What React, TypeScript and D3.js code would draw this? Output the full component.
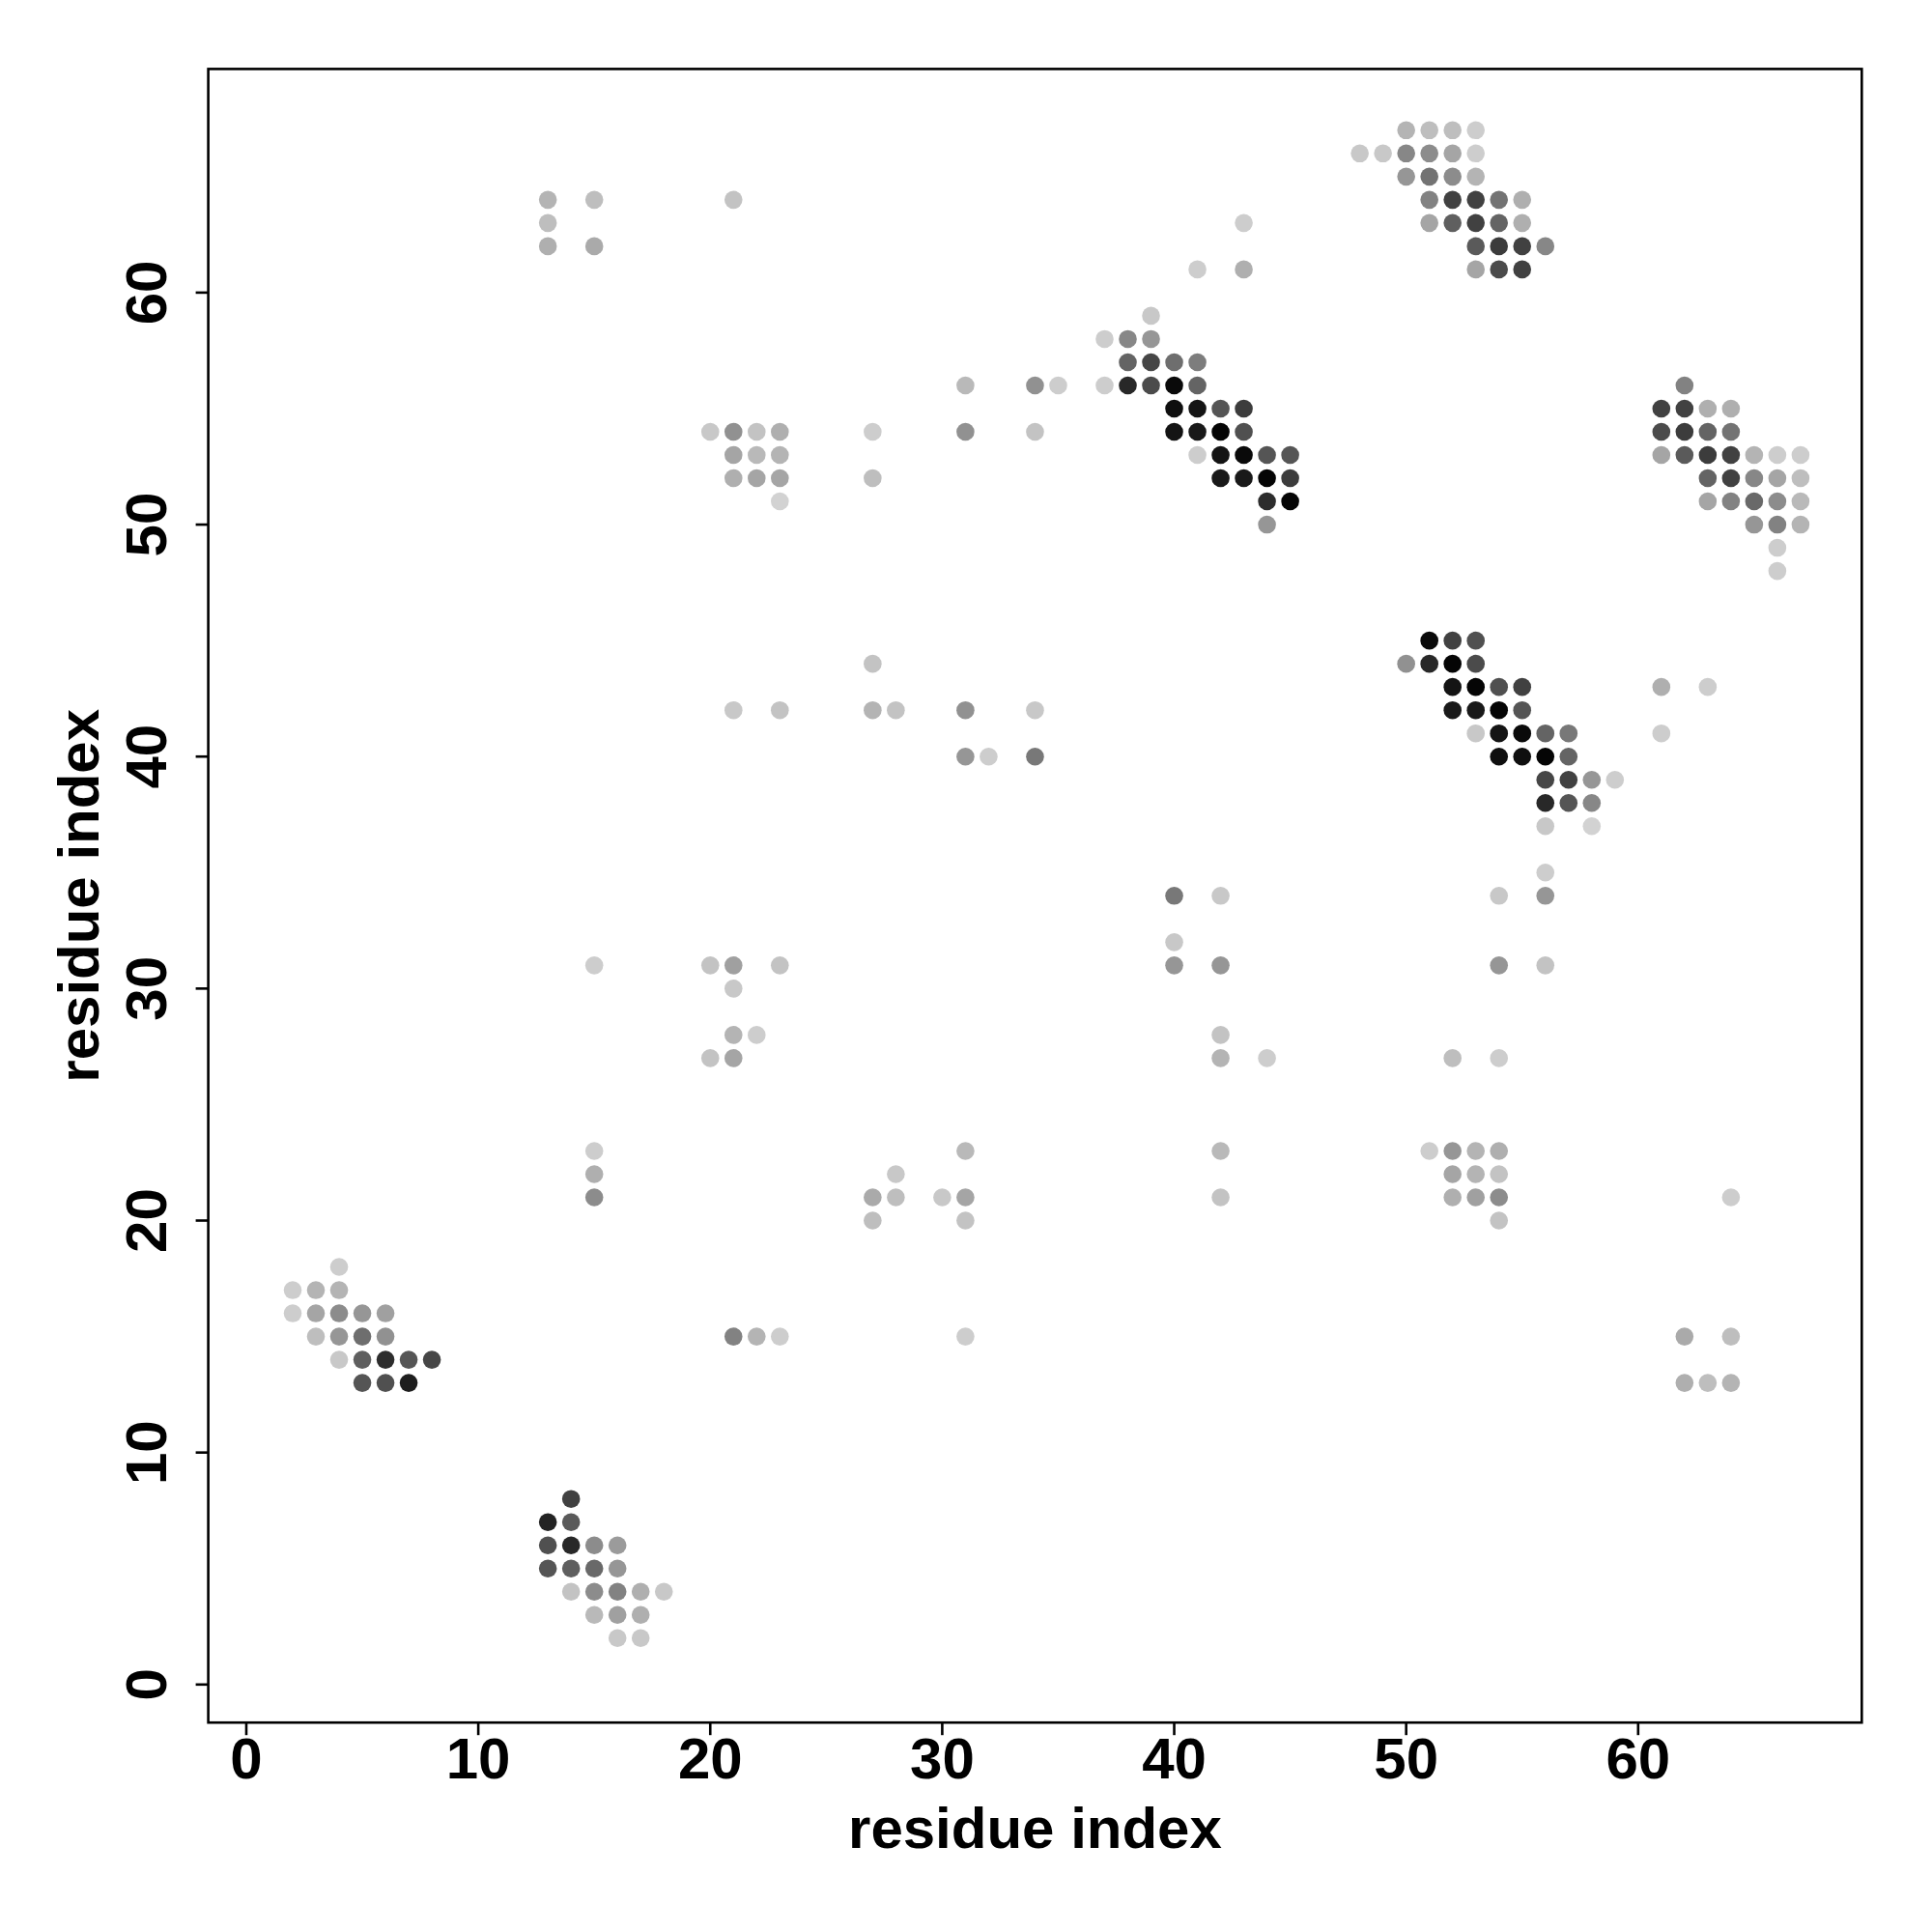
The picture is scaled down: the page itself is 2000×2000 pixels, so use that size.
import React from "react";
import * as d3 from "d3";

// Contact points: [residue x, residue y, gray level 0-255]
const clusterA: [number, number, number][] = [
  [4, 18, 205],
  [2, 17, 205], [3, 17, 180], [4, 17, 180],
  [2, 16, 205], [3, 16, 165], [4, 16, 140], [5, 16, 150], [6, 16, 160],
  [3, 15, 190], [4, 15, 150], [5, 15, 110], [6, 15, 145],
  [4, 14, 200], [5, 14, 95], [6, 14, 45], [7, 14, 85], [8, 14, 70],
  [5, 13, 85], [6, 13, 80], [7, 13, 30],
];
const clusterB: [number, number, number][] = [
  [14, 8, 65],
  [13, 7, 35], [14, 7, 90],
  [13, 6, 80], [14, 6, 40], [15, 6, 140], [16, 6, 155],
  [13, 5, 85], [14, 5, 95], [15, 5, 105], [16, 5, 150],
  [14, 4, 195], [15, 4, 140], [16, 4, 130], [17, 4, 175], [18, 4, 200],
  [15, 3, 185], [16, 3, 160], [17, 3, 175],
  [16, 2, 200], [17, 2, 200],
];
const upperLeft: [number, number, number][] = [
  [15, 23, 205], [15, 22, 175], [15, 21, 140], [15, 31, 205],
  [13, 64, 180], [13, 63, 190], [13, 62, 175], [15, 64, 190], [15, 62, 170],
  [21, 64, 195],
  [31, 56, 185], [34, 56, 145], [35, 56, 205],
  [20, 54, 200], [21, 54, 145], [22, 54, 195], [23, 54, 175], [27, 54, 205], [31, 54, 145], [34, 54, 195],
  [21, 53, 165], [22, 53, 185], [23, 53, 180],
  [21, 52, 175], [22, 52, 165], [23, 52, 165], [27, 52, 190],
  [23, 51, 210],
];
const clusterC: [number, number, number][] = [
  [43, 63, 205], [41, 61, 205], [43, 61, 175], [39, 59, 200],
  [37, 58, 205], [38, 58, 135], [39, 58, 150],
  [38, 57, 100], [39, 57, 70], [40, 57, 110], [41, 57, 125],
  [37, 56, 205], [38, 56, 40], [39, 56, 75], [40, 56, 10], [41, 56, 100],
  [40, 55, 15], [41, 55, 20], [42, 55, 85], [43, 55, 60],
  [40, 54, 20], [41, 54, 25], [42, 54, 5], [43, 54, 80],
  [41, 53, 205], [42, 53, 20], [43, 53, 10], [44, 53, 85], [45, 53, 85],
  [42, 52, 25], [43, 52, 25], [44, 52, 5], [45, 52, 60],
  [44, 51, 45], [45, 51, 5],
  [44, 50, 150],
];
const clusterD: [number, number, number][] = [
  [50, 67, 180], [51, 67, 190], [52, 67, 190], [53, 67, 205],
  [48, 66, 200], [49, 66, 200], [50, 66, 135], [51, 66, 140], [52, 66, 165], [53, 66, 205],
  [50, 65, 150], [51, 65, 115], [52, 65, 140], [53, 65, 180],
  [51, 64, 130], [52, 64, 65], [53, 64, 65], [54, 64, 115], [55, 64, 175],
  [51, 63, 165], [52, 63, 95], [53, 63, 65], [54, 63, 100], [55, 63, 175],
  [53, 62, 90], [54, 62, 60], [55, 62, 65], [56, 62, 135],
  [53, 61, 165], [54, 61, 75], [55, 61, 65],
];
const clusterE: [number, number, number][] = [
  [62, 56, 130],
  [61, 55, 65], [62, 55, 65], [63, 55, 175], [64, 55, 175],
  [61, 54, 75], [62, 54, 60], [63, 54, 100], [64, 54, 115],
  [61, 53, 165], [62, 53, 90], [63, 53, 60], [64, 53, 65], [65, 53, 180], [66, 53, 205], [67, 53, 205],
  [63, 52, 100], [64, 52, 65], [65, 52, 135], [66, 52, 165], [67, 52, 190],
  [63, 51, 165], [64, 51, 130], [65, 51, 105], [66, 51, 140], [67, 51, 185],
  [65, 50, 150], [66, 50, 130], [67, 50, 180],
  [66, 49, 205], [66, 48, 205],
];
const middle: [number, number, number][] = [
  [27, 44, 195],
  [21, 42, 200], [23, 42, 195], [27, 42, 180], [28, 42, 195], [31, 42, 145], [34, 42, 200],
  [31, 40, 150], [32, 40, 205], [34, 40, 120],
  [20, 31, 195], [21, 31, 160], [23, 31, 195],
  [21, 30, 200], [21, 28, 180], [22, 28, 205], [20, 27, 195], [21, 27, 165],
  [40, 34, 120], [42, 34, 200], [40, 32, 200], [40, 31, 150], [42, 31, 150],
  [42, 28, 195], [42, 27, 180], [44, 27, 205],
  [42, 23, 185], [42, 21, 195],
];
const clusterF: [number, number, number][] = [
  [51, 45, 10], [52, 45, 65], [53, 45, 80],
  [50, 44, 145], [51, 44, 40], [52, 44, 5], [53, 44, 75],
  [52, 43, 20], [53, 43, 5], [54, 43, 80], [55, 43, 65],
  [52, 42, 25], [53, 42, 25], [54, 42, 5], [55, 42, 85],
  [53, 41, 200], [54, 41, 20], [55, 41, 10], [56, 41, 100], [57, 41, 120],
  [54, 40, 15], [55, 40, 15], [56, 40, 5], [57, 40, 100],
  [56, 39, 70], [57, 39, 65], [58, 39, 150], [59, 39, 205],
  [56, 38, 40], [57, 38, 85], [58, 38, 135],
  [56, 37, 200], [58, 37, 210],
  [56, 35, 205], [54, 34, 200], [56, 34, 150],
  [54, 31, 150], [56, 31, 195],
  [52, 27, 190], [54, 27, 205],
  [61, 43, 175], [63, 43, 205], [61, 41, 205],
];
const lower: [number, number, number][] = [
  [31, 23, 185], [28, 22, 200], [27, 21, 170], [28, 21, 190], [30, 21, 200], [31, 21, 165], [27, 20, 190], [31, 20, 195],
  [21, 15, 130], [22, 15, 180], [23, 15, 205], [31, 15, 205],
  [51, 23, 205], [52, 23, 150], [53, 23, 180], [54, 23, 175],
  [52, 22, 165], [53, 22, 180], [54, 22, 195],
  [52, 21, 175], [53, 21, 160], [54, 21, 140], [54, 20, 195],
  [64, 21, 205], [62, 15, 170], [64, 15, 190], [62, 13, 175], [63, 13, 190], [64, 13, 180],
];

const xTicks = [0, 10, 20, 30, 40, 50, 60];
const yTicks = [0, 10, 20, 30, 40, 50, 60];
const xTitle = "residue index";
const yTitle = "residue index";

const points = [
  ...clusterA, ...clusterB, ...upperLeft, ...clusterC, ...clusterD,
  ...clusterE, ...middle, ...clusterF, ...lower,
];

export default function App() {
  const W = 2000, H = 2000;
  const left = 215.6, right = 1927.3, top = 71.4, bottom = 1783.2;
  const dom: [number, number] = [-1.64, 69.64];
  const x = d3.scaleLinear().domain(dom).range([left, right]);
  const y = d3.scaleLinear().domain(dom).range([bottom, top]);
  const gray = (g: number) => d3.rgb(g, g, g).toString();
  const font = "'Liberation Sans', Arial, Helvetica, sans-serif";
  const tickLen = 13;
  return (
    <svg width={W} height={H} style={{ position: "absolute", left: 0, top: 0, background: "#fff" }}>
      <rect x={0} y={0} width={W} height={H} fill="#fff" />
      {points.map(([px, py, g], i) => (
        <circle key={i} cx={x(px)} cy={y(py)} r={9.3} fill={gray(g)} />
      ))}
      <rect x={left} y={top} width={right - left} height={bottom - top} fill="none" stroke="#000" strokeWidth={2.6} />
      {xTicks.map((t) => (
        <g key={"x" + t}>
          <line x1={x(t)} x2={x(t)} y1={bottom} y2={bottom + tickLen} stroke="#000" strokeWidth={2.6} />
          <text x={x(t)} y={1841} textAnchor="middle" fontFamily={font} fontWeight="bold" fontSize={60}>{t}</text>
        </g>
      ))}
      {yTicks.map((t) => (
        <g key={"y" + t}>
          <line x1={left - tickLen} x2={left} y1={y(t)} y2={y(t)} stroke="#000" strokeWidth={2.6} />
          <text transform={`translate(172,${y(t)}) rotate(-90)`} textAnchor="middle" fontFamily={font} fontWeight="bold" fontSize={60}>{t}</text>
        </g>
      ))}
      <text x={(left + right) / 2} y={1913} textAnchor="middle" fontFamily={font} fontWeight="bold" fontSize={60}>{xTitle}</text>
      <text transform={`translate(102,${(top + bottom) / 2}) rotate(-90)`} textAnchor="middle" fontFamily={font} fontWeight="bold" fontSize={60}>{yTitle}</text>
    </svg>
  );
}
